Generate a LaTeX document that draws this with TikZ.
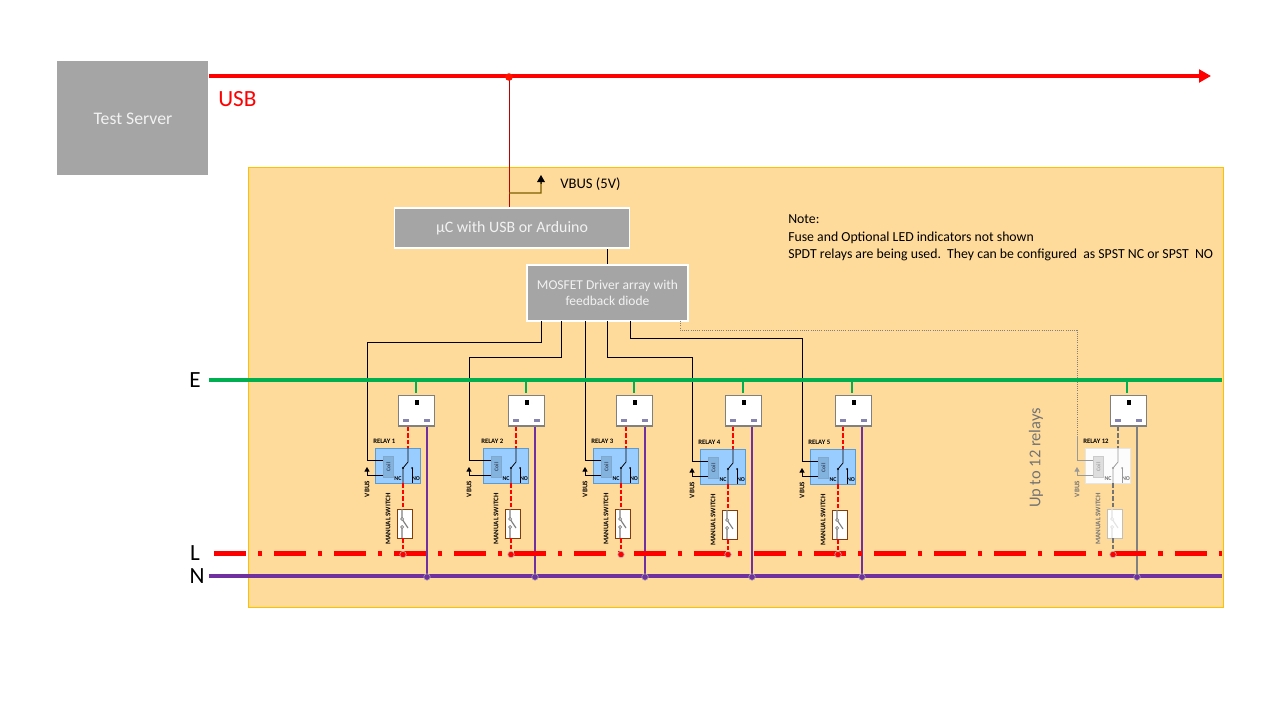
\documentclass[tikz,border=0pt]{standalone}
\usepackage{fontspec}
\setmainfont{Carlito}
\usetikzlibrary{calc, arrows.meta, positioning}

\definecolor{panelfill}{HTML}{FFDB9B}
\definecolor{panelline}{HTML}{FFC000}
\definecolor{boxgray}{HTML}{A5A5A5}
\definecolor{earthgreen}{HTML}{00B050}
\definecolor{neutralpurple}{HTML}{7030A0}
\definecolor{pinblue}{HTML}{8585AD}
\definecolor{vbusbrown}{HTML}{7F6000}

% colours of a relay that is in use
\definecolor{relayfill}{HTML}{99CCFF}
\definecolor{relayline}{HTML}{5B9BD5}
\definecolor{coilfill}{HTML}{82B2DE}
\definecolor{coiltext}{HTML}{3B4A63}
\colorlet{livewire}{red}
\colorlet{neutralwire}{neutralpurple}
\colorlet{polewire}{black}
\definecolor{swboxline}{HTML}{843C0C}
\definecolor{swicon}{HTML}{7F7F7F}
\colorlet{smalltext}{black}
\colorlet{feedwire}{black}

\def\pxu{0.025cm}

\tikzset{
    graybox/.style={draw=white, line width=1.4pt, fill=boxgray, text=white!95!black, anchor=north west, inner sep=0pt, align=center},
    feed/.style={feedwire, line width=0.55pt},
    relaywire/.style={polewire, line width=0.55pt},
    dashwire/.style={livewire, line width=1.4pt, dash pattern=on 3.2pt off 1.5pt},
    neutraldrop/.style={neutralwire, line width=1.6pt},
    busline/.style={line width=2.5pt},
    microtext/.style={font=\bfseries\fontsize{4.2}{5}\selectfont, text=smalltext, inner sep=0pt},
    sidetext/.style={font=\bfseries\fontsize{5}{6}\selectfont, text=smalltext, inner sep=0pt, rotate=90},
    buslabel/.style={font=\fontsize{16.5}{18}\selectfont, inner sep=0pt},
    junction/.style={circle, inner sep=0pt, minimum size=6.5*\pxu},
}

% #1 name, #2 socket x, #3 relay x, #4 feed wire x, #5 earth tap x, #6 switch box x, #7 neutral x, #8 relay y
\newcommand{\relayunit}[8]{
    % socket
    \node[draw=black!50, line width=0.8pt, fill=white, anchor=north west, inner sep=0pt,
        minimum width=36*\pxu, minimum height=30.5*\pxu] (socket#1) at (#2,395) {};
    \fill[black] ($(socket#1.north)+(-2,5)$) rectangle ++(4,5);
    \fill[pinblue] ($(socket#1.south west)+(5,-8)$) rectangle ++(6,3);
    \fill[pinblue] ($(socket#1.south east)+(-11,-8)$) rectangle ++(6,3);

    % relay with its coil
    \node[draw=relayline, line width=0.6pt, fill=relayfill, anchor=north west, inner sep=0pt,
        minimum width=45.5*\pxu, minimum height=35*\pxu] (relay#1) at (#3-0.5,#8-0.5) {};
    \node[draw=coilfill!80!gray, line width=0.5pt, fill=coilfill, anchor=north west, inner sep=0pt,
        minimum width=10*\pxu, minimum height=21*\pxu,
        font=\bfseries\fontsize{4}{5}\selectfont, text=coiltext] (coil#1) at (#3+8,#8+8) {\rotatebox{90}{Coil}};
    \node[microtext, font=\bfseries\fontsize{4.8}{5}\selectfont, text=black, anchor=west] (relaytext#1) at (#3-2,#8-7) {RELAY #1};
    \node[microtext] (nctext#1) at (#3+23,#8+31) {NC};
    \node[microtext] (notext#1) at (#3+41,#8+31) {NO};

    % contacts
    \coordinate (pole#1) at (#3+33,#8);
    \coordinate (polemid#1) at (#3+33,#8+14);
    \coordinate (nc#1) at (#3+28,#8+20);
    \coordinate (ncout#1) at (#3+28,#8+35);
    \coordinate (no#1) at (#3+37,#8+20);
    \coordinate (noout#1) at (#3+37,#8+35);
    \draw[relaywire] (pole#1) -- (polemid#1) -- (nc#1) -- (ncout#1);
    \draw[relaywire] (no#1) -- (noout#1);
    \fill[polewire] (nc#1) circle (1.2) (no#1) circle (1);

    % coil wires
    \coordinate (coilin#1) at (#3+8,#8+12);
    \coordinate (coilvb#1) at (#3+8,#8+27);
    \coordinate (vbfoot#1) at (#4,#8+27);
    \coordinate (vbtip#1) at (#4,#8+19);
    \coordinate (wireend#1) at (#4,#8+12);
    \draw[feed] (wireend#1) -- (coilin#1);
    \draw[relaywire, -{Triangle[length=3.2pt,width=3.6pt]}] (coilvb#1) -- (vbfoot#1) -- (vbtip#1);
    \node[sidetext] (vbustext#1) at (#4,#8+41) {VBUS};

    % manual switch
    \node[draw=swboxline, line width=0.7pt, fill=white, anchor=north west, inner sep=0pt,
        minimum width=14.5*\pxu, minimum height=29*\pxu] (swbox#1) at (#6,#8+61) {};
    \draw[swicon, line width=0.8pt] ($(swbox#1.north west)+(5,0)$) -- ++(0,10) -- ++(6,9)
        ($(swbox#1.north west)+(5,18)$) -- ++(0,11);
    \draw[swicon, line width=0.5pt, fill=white] ($(swbox#1.north west)+(5,10)$) circle (1.5)
        ($(swbox#1.north west)+(5,18)$) circle (1.5);
    \node[sidetext] (swtext#1) at (#6-9,#8+71) {MANUAL SWITCH};

    % live and neutral drops
    \coordinate (swin#1) at (#6+6,#8+61);
    \coordinate (swout#1) at (#6+6,#8+90);
    \coordinate (ltap#1) at (#6+6,554.5);
    \coordinate (ntap#1) at (#7,577);
    \draw[dashwire] (pole#1 |- socket#1.south) -- (pole#1);
    \draw[dashwire] (ncout#1) -- (swin#1);
    \draw[dashwire] (swout#1) -- (ltap#1);
    \draw[neutraldrop] (ntap#1 |- socket#1.south) -- (ntap#1);

    % earth tap
    \coordinate (etap#1) at (#5,380);
    \draw[earthgreen, line width=1.1pt, shorten >=1.4pt] (etap#1) -- (etap#1 |- socket#1.north);
}

\begin{document}
\begin{tikzpicture}[x=0.025cm, y=-0.025cm]
    \useasboundingbox (0,0) rectangle (1280,720);

    % 1. Board and server
    \node[draw=panelline, line width=0.6pt, fill=panelfill, anchor=north west, inner sep=0pt,
        minimum width=975*\pxu, minimum height=439*\pxu] (board) at (247.5,167.5) {};
    \node[graybox, draw=none, minimum width=151*\pxu, minimum height=114*\pxu,
        font=\fontsize{12.6}{15}\selectfont] (server) at (56.5,60.5) {Test Server};

    % 2. USB line
    \coordinate (usbstart) at (209,76);
    \coordinate (usbend) at (1211,76);
    \coordinate (usbtap) at (509,77);
    \coordinate (vbusfrom) at (509,193);
    \coordinate (vbuscorner) at (541,193);
    \coordinate (vbustip) at (541,175);
    \node[graybox, minimum width=235*\pxu, minimum height=40*\pxu,
        font=\fontsize{11.3}{13}\selectfont] (micro) at (393.5,207.5) {µC with USB or Arduino};
    \node[graybox, minimum width=161*\pxu, minimum height=56*\pxu,
        font=\fontsize{9.6}{11.5}\selectfont] (driver) at (526,264) {MOSFET Driver array with\\feedback diode};
    \draw[red!75!black, line width=0.7pt] (usbtap) -- (usbtap |- micro.north);
    \draw[red, line width=2.5pt, -{Triangle[length=8.5pt,width=9pt]}] (usbstart) -- (usbend);
    \fill[red!85!orange] (usbtap) circle (3.8);
    \draw[vbusbrown, line width=1pt] (vbusfrom) -- (vbuscorner) -- ($(vbuscorner)!0.6!(vbustip)$);
    \draw[black, line width=0.7pt, -{Triangle[length=5pt,width=5.5pt]}] ($(vbuscorner)!0.5!(vbustip)$) -- (vbustip);
    \draw[black, line width=0.55pt] (driver.north |- micro.south) -- (driver.north);

    % 3. Texts
    \node[red, buslabel, anchor=west] (usbtext) at (218,99) {USB};
    \node[anchor=west, inner sep=0pt, font=\fontsize{10.4}{12}\selectfont] (vbusmain) at (560,184) {VBUS (5V)};
    \node[anchor=north west, inner sep=0pt, align=left, font=\fontsize{9.8}{12.4}\selectfont] (note) at (788,214.5)
        {Note:\\Fuse and Optional LED indicators not shown\\SPDT relays are being used.\ \ They can be configured\ \ as SPST NC or SPST\ \ NO};
    \node[rotate=90, inner sep=0pt, text=black!55, font=\fontsize{11.7}{13}\selectfont] (uptotext) at (1036,458) {Up to 12 relays};
    \node[buslabel] (etext) at (195,380) {E};
    \node[buslabel] (ltext) at (195,553) {L};
    \node[buslabel] (ntext) at (197,576) {N};

    % 4. Relays 1 to 5
    \foreach \n/\sx/\rx/\wx/\tx/\bx/\px/\ry in {1/398/375/367/416/397/427/448, 2/508/483/469/526/505/535/448,
        3/616/593/585/634/615/645/448, 4/725/700/692/743/722/752/449, 5/835/810/802/852/832/862/449}
        {\relayunit{\n}{\sx}{\rx}{\wx}{\tx}{\bx}{\px}{\ry}}

    % 5. Faded relay 12
    \begin{scope}
        \definecolor{relayfill}{HTML}{FCFCFC}
        \definecolor{relayline}{HTML}{E6E6E6}
        \definecolor{coilfill}{HTML}{DEDEDE}
        \definecolor{coiltext}{HTML}{A6A6A6}
        \colorlet{livewire}{black!55}
        \colorlet{neutralwire}{black!50}
        \colorlet{polewire}{black!40}
        \definecolor{swboxline}{HTML}{BFBFBF}
        \definecolor{swicon}{HTML}{E3E3E3}
        \colorlet{smalltext}{black!55}
        \colorlet{feedwire}{black!40}
        \relayunit{12}{1110}{1085}{1077}{1127}{1107}{1137}{448}
    \end{scope}

    % 6. Driver outputs
    \coordinate (drv1) at (541,321);
    \coordinate (drv2) at (561,321);
    \coordinate (drv3) at (585,321);
    \coordinate (drv4) at (607,321);
    \coordinate (drv5) at (630,321);
    \coordinate (drv12) at (680,321);
    \draw[feed] (drv1) -- (drv1 |- 0,342) -| (wireend1);
    \draw[feed] (drv2) -- (drv2 |- 0,357) -| (wireend2);
    \draw[feed] (drv3) -- (wireend3);
    \draw[feed] (drv4) -- (drv4 |- 0,357) -| (wireend4);
    \draw[feed] (drv5) -- (drv5 |- 0,338) -| (wireend5);
    \draw[black!50, line width=0.55pt, densely dotted] (drv12) -- (drv12 |- 0,330) -| (wireend12);
    \draw[black!40, line width=0.6pt] (wireend12) ++(0,-24) -- (wireend12);

    % 7. Buses
    \coordinate (ebusl) at (209,380);
    \coordinate (ebusr) at (1222,380);
    \coordinate (lbusl) at (214,553.5);
    \coordinate (lbusr) at (1222,553.5);
    \coordinate (nbusl) at (209,576);
    \coordinate (nbusr) at (1222,576);
    \draw[earthgreen, busline] (ebusl) -- (ebusr);
    \draw[red, line width=2.9pt, dash pattern=on 22.76pt off 8.54pt on 2.85pt off 8.54pt] (lbusl) -- (lbusr);
    \draw[neutralpurple, busline] (nbusl) -- (nbusr);

    % 8. Junction dots
    \foreach \n in {1,2,3,4,5,12} {
        \node[junction, fill=red, draw=black!25, line width=0.4pt] (ldot\n) at (ltap\n) {};
        \node[junction, fill=neutralpurple, draw=black!35, line width=0.4pt] (ndot\n) at (ntap\n) {};
    }
\end{tikzpicture}
\end{document}
